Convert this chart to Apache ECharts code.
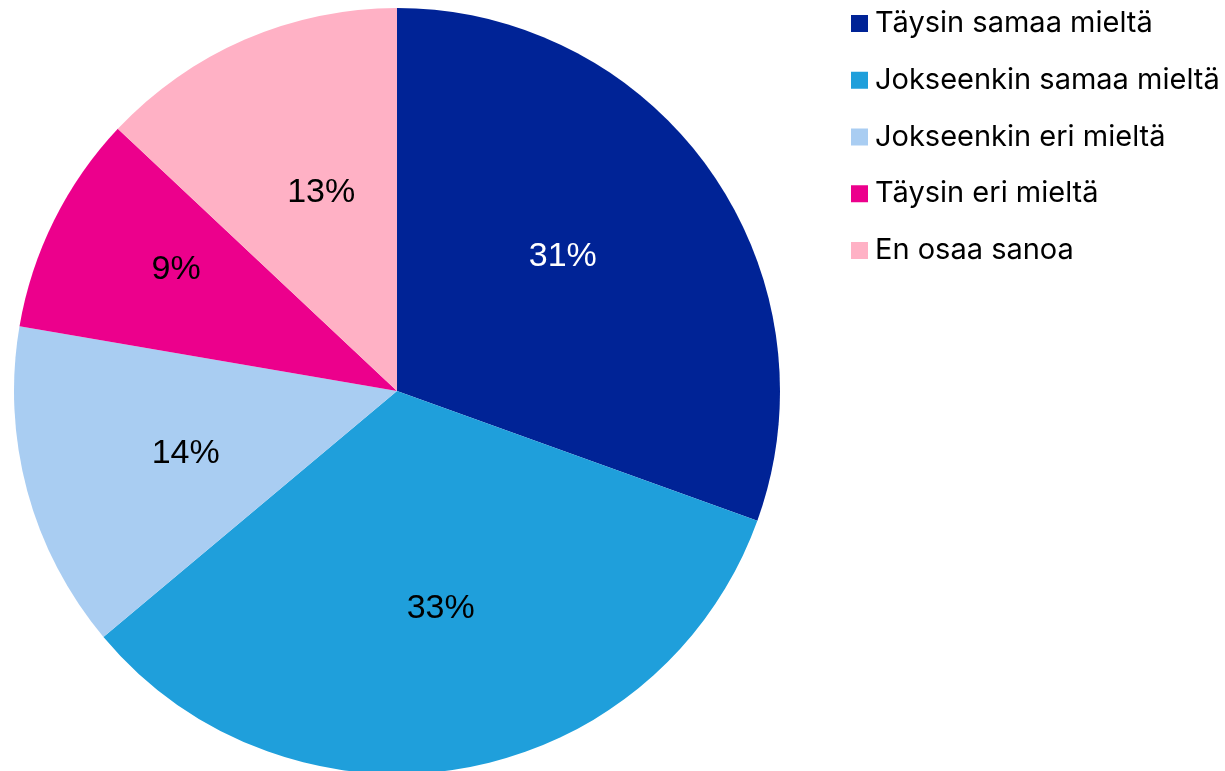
<!DOCTYPE html>
<html>
<head>
<meta charset="utf-8">
<script src="https://cdn.jsdelivr.net/npm/echarts@6/dist/echarts.min.js"></script>
<style>
html,body{margin:0;padding:0;background:#fff;}
#chart{width:1225px;height:771px;}
</style>
</head>
<body>
<div id="chart"></div>
<script>
const categories = ['Täysin samaa mieltä','Jokseenkin samaa mieltä','Jokseenkin eri mieltä','Täysin eri mieltä','En osaa sanoa'];
const values = [30.5, 33.4, 13.8, 9.3, 13.0];
const colors = ['#002396','#1F9FDB','#A9CDF2','#EC008C','#FFB1C5'];
const labelColors = ['#ffffff','#000000','#000000','#000000','#000000'];
const labelOffsets = [[-15,-7],[5,0],[2,5],[-23,-23],[12,4]];

const chart = echarts.init(document.getElementById('chart'));
const mainData = categories.map((c,i)=>({name:c, value:values[i], itemStyle:{color:colors[i]}}));
const labelData = categories.map((c,i)=>({name:c, value:values[i], label:{color:labelColors[i], offset:labelOffsets[i]}}));
chart.setOption({
  animation:false,
  legend:{
    orient:'vertical', left:846, top:4,
    itemWidth:17, itemHeight:17, itemGap:27.75,
    icon:'rect',
    textStyle:{fontSize:29, lineHeight:29, color:'#000', fontFamily:'Inter', padding:[0,0,0,2]},
    data:categories
  },
  series:[
    {
      type:'pie', center:[397,391], radius:[0,383], startAngle:90, clockwise:true,
      silent:true, label:{show:false}, labelLine:{show:false},
      itemStyle:{borderWidth:0},
      data:mainData
    },
    {
      type:'pie', center:[397,391], radius:[0,436], startAngle:90, clockwise:true,
      silent:true, itemStyle:{color:'rgba(0,0,0,0)'}, labelLine:{show:false},
      label:{show:true, position:'inside', fontSize:34, fontFamily:'Liberation Sans',
        formatter:p=>Math.round(p.percent)+'%'},
      data:labelData
    }
  ]
});
</script>
</body>
</html>
